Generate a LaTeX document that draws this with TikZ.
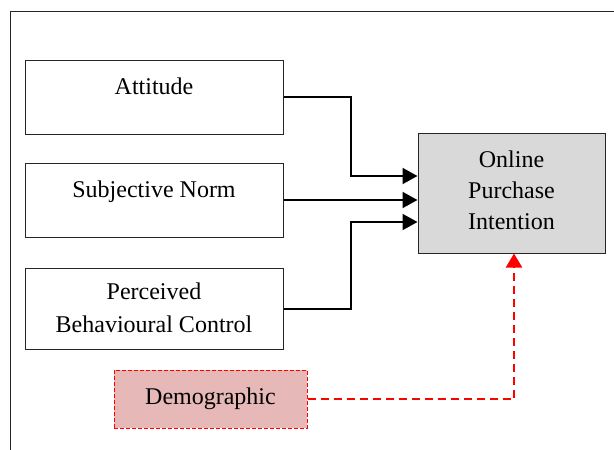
\documentclass[tikz,border=0pt]{standalone}
\usepackage{fontspec}
\setmainfont{Liberation Serif}
\usetikzlibrary{arrows.meta}
\definecolor{opigray}{HTML}{D9D9D9}
\definecolor{demofill}{HTML}{E6B8B7}
\definecolor{demored}{HTML}{FF0000}
\tikzset{
  box/.style={draw=black!85, line width=1pt, rectangle, inner sep=0pt},
  lbl/.style={font=\fontsize{24}{31}\selectfont, inner sep=0pt, align=center, anchor=base},
  flow/.style={draw=black, line width=2pt, -{Triangle[length=15pt,width=16pt]}},
  dflow/.style={draw=demored, line width=2.2pt, dash pattern=on 8pt off 5pt,
    -{Triangle[length=14pt,width=16pt]}},
}
\begin{document}
\begin{tikzpicture}[x=1pt, y=-1pt]
  \useasboundingbox (0,0) rectangle (614,450);
  % outer frame (top and left edges)
  \draw[line width=1pt, black!85] (614,11) -- (10,11) -- (10,450);

  % predictor boxes
  \node[box, minimum width=258pt, minimum height=74pt] (att) at (154,97) {};
  \node[lbl] (attT) at (154,94) {Attitude};
  \node[box, minimum width=258pt, minimum height=74pt] (sn) at (154,200) {};
  \node[lbl] (snT) at (154,197) {Subjective Norm};
  \node[box, minimum width=258pt, minimum height=81pt] (pbc) at (154,308.5) {};
  % multi-line labels: base anchor sits on the last line
  \node[lbl, font=\fontsize{24}{33}\selectfont] (pbcT) at (154,332) {Perceived\\Behavioural Control};

  % outcome box
  \node[box, fill=opigray, minimum width=187pt, minimum height=120pt] (opi) at (511.5,193) {};
  \node[lbl] (opiT) at (511.5,229) {Online\\Purchase\\Intention};

  % moderator box
  \node[box, draw=demored, fill=demofill, dash pattern=on 4pt off 2pt,
        minimum width=193pt, minimum height=58pt] (demo) at (210.5,399) {};
  \node[lbl] (demoT) at (210.5,404) {Demographic};

  % connectors
  \draw[flow] (att.east) -| (351,176) -- (opi.west |- 351,176);
  \draw[flow] (sn.east) -- (opi.west |- sn.east);
  \draw[flow] (pbc.east) -| (351,222) -- (opi.west |- 351,222);
  \draw[dflow] (demo.east) -| ([xshift=2.5pt]opi.south);
\end{tikzpicture}
\end{document}
